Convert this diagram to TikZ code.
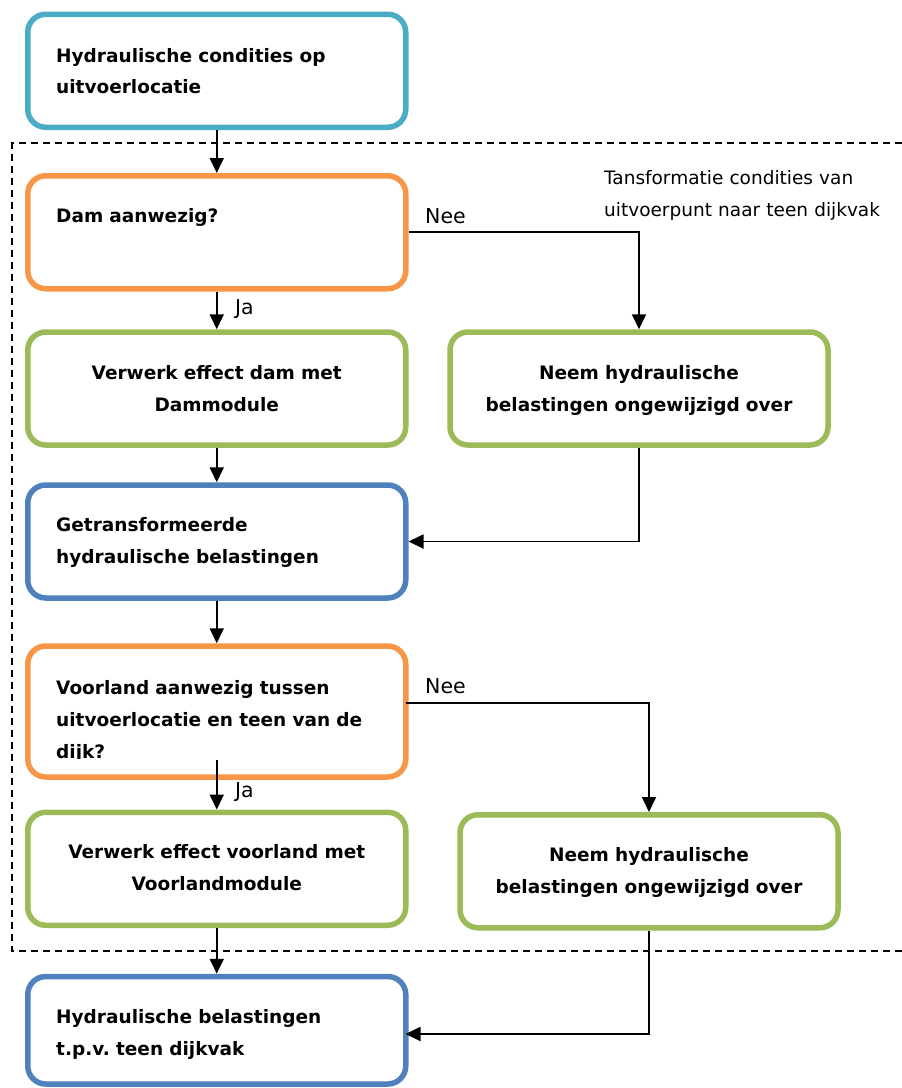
\documentclass[tikz,border=0pt]{standalone}
\usepackage{fontspec}
\setmainfont{DejaVu Sans}
\usetikzlibrary{arrows.meta}
\frenchspacing

\definecolor{cyanline}{HTML}{4BACC6}
\definecolor{orangeline}{HTML}{F79646}
\definecolor{greenline}{HTML}{9BBB59}
\definecolor{blueline}{HTML}{4F81BD}

\tikzset{
  flowbox/.style={draw=#1, line width=5.5pt, rounded corners=18pt, fill=white,
    minimum width=378pt, minimum height=113pt, inner sep=0pt},
  lefttext/.style={anchor=base west, inner sep=0pt, text width=350pt, align=left,
    font=\fontsize{18.5}{32}\selectfont\bfseries},
  midtext/.style={anchor=base, inner sep=0pt, text width=360pt, align=center,
    font=\fontsize{18.5}{32}\selectfont\bfseries},
  branch/.style={anchor=base west, inner sep=0pt, font=\fontsize{20.5}{24}\selectfont},
  note/.style={anchor=base west, inner sep=0pt, text width=295pt, align=left,
    font=\fontsize{18.5}{32}\selectfont},
  flow/.style={draw=black, line width=1.8pt, -{Triangle[length=15pt,width=14pt]}},
  frame/.style={draw=black, line width=2pt, dash pattern=on 7pt off 5pt}
}

\begin{document}
\begin{tikzpicture}[x=1pt, y=-1pt]
  \useasboundingbox (0,0) rectangle (902,1088);

  % dashed frame of the transformation step (open to the right)
  \draw[frame] (902,143.3) -- (12.3,143.3) -- (12.3,951.3) -- (902,951.3);

  % boxes
  \node[flowbox=cyanline]   (hc)    at (216.75,70.75)  {};
  \node[flowbox=orangeline] (dam)   at (216.75,232.25) {};
  \node[flowbox=greenline]  (vdam)  at (216.75,388.5)  {};
  \node[flowbox=greenline]  (neem1) at (639,388.5)     {};
  \node[flowbox=blueline]   (getr)  at (216.75,541.5)  {};
  \node[flowbox=orangeline, minimum height=131pt] (voor) at (216.75,711.5) {};
  \node[flowbox=greenline]  (vvoor) at (216.75,868.75) {};
  \node[flowbox=greenline]  (neem2) at (649,871.25)    {};
  \node[flowbox=blueline, minimum height=107.5pt] (hb) at (216.75,1030.25) {};

  % box texts
  \node[lefttext, font=\fontsize{18.5}{31}\selectfont\bfseries] (thc) at (56,62)
    {Hydraulische condities op\\uitvoerlocatie};
  \node[lefttext] (tdam) at (56,222) {Dam aanwezig?};
  \node[midtext] (tvdam) at (216.75,379) {Verwerk effect dam met\\Dammodule};
  \node[midtext] (tneem1) at (639,379) {Neem hydraulische\\belastingen ongewijzigd over};
  \node[lefttext] (tgetr) at (56,531) {Getransformeerde\\hydraulische belastingen};
  \begin{scope}
    \clip (28,646) rectangle (405.5,758.6);
    \node[lefttext] (tvoor) at (56,694)
      {Voorland aanwezig tussen\\uitvoerlocatie en teen van de\\dijk?};
  \end{scope}
  \node[midtext] (tvvoor) at (216.75,858) {Verwerk effect voorland met\\Voorlandmodule};
  \node[midtext] (tneem2) at (649,861) {Neem hydraulische\\belastingen ongewijzigd over};
  \node[lefttext] (thb) at (56,1023) {Hydraulische belastingen\\t.p.v. teen dijkvak};

  % annotation
  \node[note] (tnote) at (604,184) {Tansformatie condities van\\uitvoerpunt naar teen dijkvak};

  % branch labels
  \node[branch] (nee1) at (425,223) {Nee};
  \node[branch] (ja1)  at (235,314) {Ja};
  \node[branch] (nee2) at (425,693) {Nee};
  \node[branch] (ja2)  at (235,797) {Ja};

  % connector end points that do not sit on a box anchor
  \coordinate (voorout) at (216.75,760);
  \coordinate (voorside) at (405.5,702.7);
  \coordinate (hbside) at (405.5,1034);

  % connectors
  \draw[flow] (hc.south) -- (dam.north);
  \draw[flow] (dam.east) -| (neem1.north);
  \draw[flow] (dam.south) -- (vdam.north);
  \draw[flow] (vdam.south) -- (getr.north);
  \draw[flow] (neem1.south) |- (getr.east);
  \draw[flow] (getr.south) -- (voor.north);
  \draw[flow] (voorside) -| (neem2.north);
  \draw[flow] (voorout) -- (vvoor.north);
  \draw[flow] (vvoor.south) -- (hb.north);
  \draw[flow] (neem2.south) |- (hbside);
\end{tikzpicture}
\end{document}
